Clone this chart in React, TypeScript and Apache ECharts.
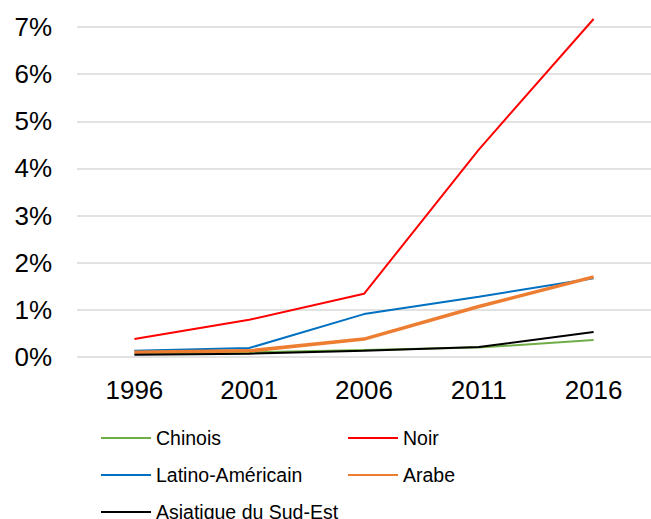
import React, { useEffect, useRef } from "react";
import * as echarts from "echarts";

const years = ["1996", "2001", "2006", "2011", "2016"];
const chinois = [0.07, 0.1, 0.15, 0.2, 0.36];
const noir = [0.38, 0.79, 1.34, 4.4, 7.17];
const latino = [0.13, 0.19, 0.91, 1.28, 1.67];
const arabe = [0.1, 0.13, 0.38, 1.07, 1.7];
const asiatique = [0.05, 0.07, 0.13, 0.21, 0.53];
const yTicks = [0, 7, 1];

const seriesDefs = [
  { name: "Chinois", data: chinois, color: "#70AD47", width: 2, legend: [100, 438] },
  { name: "Noir", data: noir, color: "#FF0000", width: 2, legend: [347, 438] },
  { name: "Latino-Américain", data: latino, color: "#0070C0", width: 2, legend: [100, 475] },
  { name: "Arabe", data: arabe, color: "#ED7D31", width: 3.5, legend: [347, 475] },
  { name: "Asiatique du Sud-Est", data: asiatique, color: "#000000", width: 2, legend: [100, 512] },
];

export default function App() {
  const ref = useRef<HTMLDivElement>(null);
  useEffect(() => {
    if (!ref.current) return;
    const chart = echarts.init(ref.current, undefined, { renderer: "svg" });
    const font = "Liberation Sans, Arial, sans-serif";
    chart.setOption({
      animation: false,
      grid: { left: 77, right: -4, top: 27, bottom: 162, containLabel: false },
      xAxis: {
        type: "category",
        data: years,
        boundaryGap: true,
        axisLine: { show: false },
        axisTick: { show: false },
        axisLabel: { fontSize: 26, color: "#000", fontFamily: font, margin: 20 },
      },
      yAxis: {
        type: "value",
        min: yTicks[0],
        max: yTicks[1],
        interval: yTicks[2],
        axisLabel: { formatter: "{value}%", fontSize: 26, color: "#000", fontFamily: font, margin: 25 },
        splitLine: { lineStyle: { color: "#d9d9d9", width: 1.5 } },
        axisLine: { show: false },
        axisTick: { show: false },
      },
      legend: seriesDefs.map((s) => ({
        data: [s.name],
        left: s.legend[0],
        top: s.legend[1] - 10,
        padding: 0,
        itemWidth: 50,
        itemHeight: 20,
        itemGap: 5,
        itemStyle: { opacity: 0 },
        textStyle: { fontSize: 19.5, color: "#000", fontFamily: font },
      })),
      series: seriesDefs.map((s) => ({
        name: s.name,
        type: "line",
        data: s.data,
        symbol: "none",
        clip: false,
        color: s.color,
        lineStyle: { color: s.color, width: s.width },
      })),
    });
    return () => chart.dispose();
  }, []);
  return <div ref={ref} style={{ width: 651, height: 519, position: "absolute", left: 0, top: 0 }} />;
}
